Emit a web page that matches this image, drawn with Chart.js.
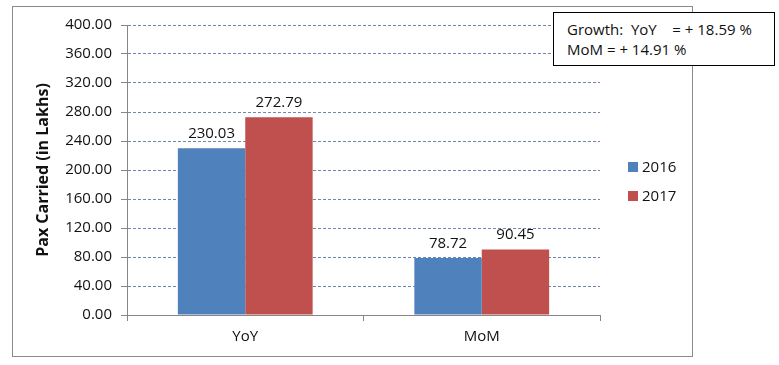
<!DOCTYPE html>
<html><head><meta charset="utf-8">
<script src="https://cdn.jsdelivr.net/npm/chart.js@4/dist/chart.umd.min.js"></script>
<style>
html,body{margin:0;padding:0;background:#fff;}
#wrap{position:relative;width:779px;height:365px;overflow:hidden;}
#frame{position:absolute;left:12px;top:6px;width:681px;height:351px;border:1px solid #8a8a8a;box-sizing:border-box;}
canvas{position:absolute;left:0;top:0;}
#note{position:absolute;left:553px;top:12px;width:222px;height:54px;border:1px solid #000;background:#fff;box-sizing:border-box;
 font-family:"Open Sans",sans-serif;font-size:15px;line-height:20px;padding:6px 0 0 13px;white-space:pre;color:#111;}
</style></head>
<body><div id="wrap"><div id="frame"></div><canvas id="c" width="779" height="365"></canvas>
<div id="note">Growth:  YoY    = + 18.59 %
MoM = + 14.91 %</div></div>
<script>
const categories = ["YoY", "MoM"];
const seriesNames = ["2016", "2017"];
const values2016 = [230.03, 78.72];
const values2017 = [272.79, 90.45];
const yTicks = [0, 40, 80, 120, 160, 200, 240, 280, 320, 360, 400];
const colors = ["#4F81BD", "#C0504D"];
const FONT = "'Open Sans', sans-serif";

const labelPlugin = {
  id: 'labels',
  afterDatasetsDraw(chart) {
    const ctx = chart.ctx;
    ctx.save();
    ctx.font = "15px " + FONT;
    ctx.fillStyle = "#111";
    ctx.textAlign = "center";
    ctx.textBaseline = "bottom";
    chart.data.datasets.forEach((ds, i) => {
      chart.getDatasetMeta(i).data.forEach((bar, j) => {
        ctx.fillText(ds.data[j].toFixed(2), bar.x, bar.y - 7);
      });
    });
    ctx.restore();
  },
  afterDraw(chart) {
    const ctx = chart.ctx;
    ctx.save();
    ctx.font = "15px " + FONT;
    ctx.textBaseline = "middle";
    ctx.textAlign = "left";
    const x0 = 628, ys = [167, 196];
    chart.data.datasets.forEach((ds, i) => {
      ctx.fillStyle = ds.backgroundColor;
      ctx.fillRect(x0, ys[i] - 5, 10, 10);
      ctx.fillStyle = "#111";
      ctx.fillText(ds.label, x0 + 14, ys[i] + 1);
    });
    ctx.restore();
  }
};

new Chart(document.getElementById('c'), {
  type: 'bar',
  data: {
    labels: categories,
    datasets: [
      { label: seriesNames[0], data: values2016, backgroundColor: colors[0] },
      { label: seriesNames[1], data: values2017, backgroundColor: colors[1] }
    ]
  },
  options: {
    responsive: false,
    animation: false,
    devicePixelRatio: 1,
    layout: { padding: { left: 30, right: 179, top: 25, bottom: 20 } },
    datasets: { bar: { categoryPercentage: 0.57, barPercentage: 1 } },
    plugins: { legend: { display: false }, tooltip: { enabled: false } },
    scales: {
      x: {
        grid: { display: true, drawOnChartArea: false, offset: true, tickLength: 6, color: '#868686' },
        border: { color: '#868686' },
        ticks: { font: { family: FONT, size: 15 }, color: '#111', padding: 7 },
        afterFit(s) { s.height = 30; }
      },
      y: {
        min: 0, max: 400,
        afterBuildTicks(s) { s.ticks = yTicks.map(v => ({ value: v })); },
        grid: { color: '#7088b0', tickLength: 6, tickColor: '#868686', tickBorderDash: [] },
        border: { color: '#868686', dash: [3, 2] },
        ticks: { font: { family: FONT, size: 15 }, color: '#111', padding: 9, callback: v => Number(v).toFixed(2) },
        title: { display: true, text: 'Pax Carried (in Lakhs)', font: { family: FONT, size: 16, weight: 'bold' }, color: '#111', padding: { top: 4, bottom: 0 } },
        afterFit(s) { s.width = 97; }
      }
    }
  },
  plugins: [labelPlugin]
});
</script></body></html>
